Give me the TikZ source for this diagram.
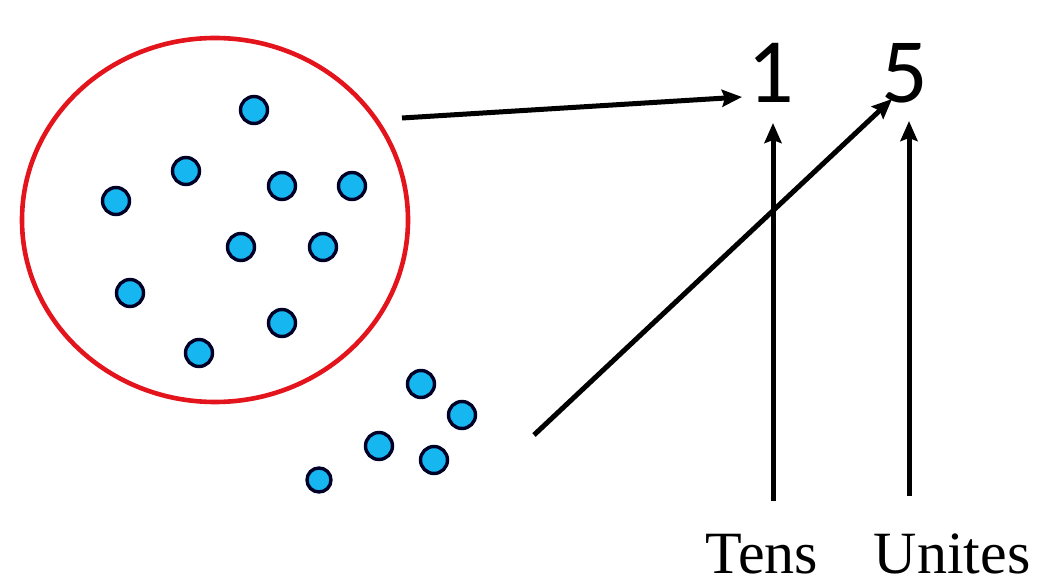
\documentclass[tikz,border=0pt]{standalone}
\usepackage{fontspec}
\setmainfont{Liberation Serif}
\newfontfamily\digitfont{Carlito}
\usetikzlibrary{arrows.meta}
\definecolor{dotblue}{RGB}{22,182,240}
\definecolor{ringred}{RGB}{228,20,28}
\begin{document}
\begin{tikzpicture}[x=1pt,y=-1pt,
  dot/.style={circle,draw=black!85!blue,line width=3.4pt,fill=dotblue,minimum size=27pt,inner sep=0pt},
  sdot/.style={dot,minimum size=24pt},
  arr/.style={line width=5pt,-{Stealth[length=20pt,width=17pt,inset=3pt]}},
  digit/.style={font=\digitfont\fontsize{92}{92}\selectfont,inner sep=0pt,anchor=base},
  lab/.style={font=\fontsize{60}{60}\selectfont,inner sep=0pt,anchor=base}]
\useasboundingbox (0,0) rectangle (1037,585);
\fill[white] (0,0) rectangle (1037,585);
\draw[ringred,line width=4.6pt] (215,220) ellipse [x radius=193pt,y radius=182pt];
\foreach \n/\x/\y in {a/254/110,b/186/171,c/116/201,d/282/186,e/352/186,f/241/247,g/323/247,h/130/293,i/282/323,j/199/353}
  \node[dot] (d\n) at (\x,\y) {};
\foreach \n/\x/\y in {a/421/384,b/462/415,c/379/446,d/434/460}
  \node[dot] (s\n) at (\x,\y) {};
\node[sdot] (se) at (319,480) {};
\node[digit] (one) at (771,103) {1};
\node[digit] (five) at (905,103) {5};
\node[lab] (tens) at (762,573) {Tens};
\node[lab] (unites) at (952,573) {Unites};
\coordinate (groupout) at (402,118);
\coordinate (oneL) at (742,97);
\coordinate (looseout) at (534,435);
\coordinate (fiveL) at (892,99);
\coordinate (tensT) at (773,501);
\coordinate (oneB) at (773,123);
\coordinate (unitesT) at (909,496);
\coordinate (fiveB) at (909,121);
\draw[arr] (groupout) -- (oneL);
\draw[arr] (looseout) -- (fiveL);
\draw[arr] (tensT) -- (oneB);
\draw[arr] (unitesT) -- (fiveB);
\end{tikzpicture}
\end{document}
